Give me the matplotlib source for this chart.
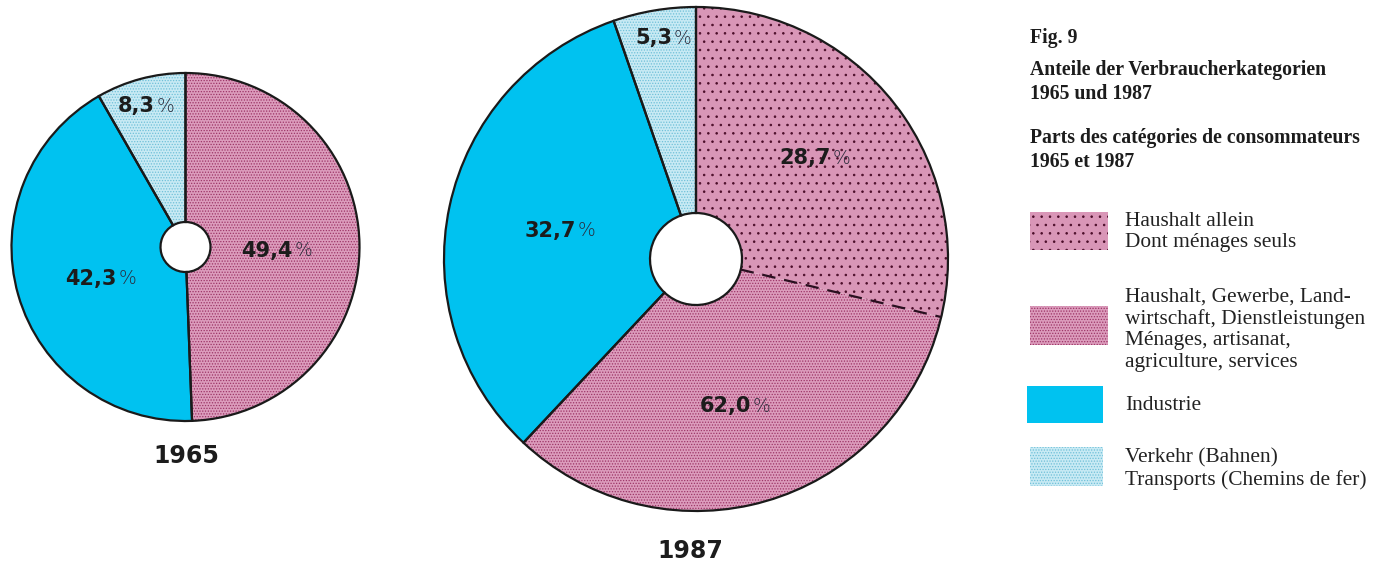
import matplotlib
matplotlib.use("Agg")
import matplotlib.pyplot as plt
from matplotlib.patches import Rectangle
import numpy as np

# ---------------- data ----------------
categories = ["Haushalt allein", "Haushalt, Gewerbe, Landwirtschaft, Dienstleistungen",
              "Industrie", "Verkehr (Bahnen)"]
years = ["1965", "1987"]
values_1965 = [49.4, 42.3, 8.3]            # pink total, industry, transport
values_1987 = [28.7, 33.3, 32.7, 5.3]      # households alone, rest of pink, industry, transport
labels_1965 = ["49,4", "42,3", "8,3"]
labels_1987 = ["28,7", "62,0", "32,7", "5,3"]
outline_1987 = [62.0, 32.7, 5.3]

legend_texts = [
    ["Haushalt allein", "Dont ménages seuls"],
    ["Haushalt, Gewerbe, Land-", "wirtschaft, Dienstleistungen",
     "Ménages, artisanat,", "agriculture, services"],
    ["Industrie"],
    ["Verkehr (Bahnen)", "Transports (Chemins de fer)"],
]
title_lines = ["Fig. 9", "Anteile der Verbraucherkategorien", "1965 und 1987",
               "Parts des catégories de consommateurs", "1965 et 1987"]

# ---------------- style ----------------
W, H = 1377, 565
PINK = "#dc9cbc"
PINK_DOT = "#9c3466"
PINK2 = "#d996b7"
PINK2_DOT = "#4a0c28"
BLUE = "#00c2f0"
LBLUE = "#c8eaf4"
LBLUE_DOT = "#6fc0d8"
TXT = "#1c1c1c"

plt.rcParams["hatch.linewidth"] = 0.6

fig = plt.figure(figsize=(W / 100, H / 100), dpi=100)
ax = fig.add_axes([0, 0, 1, 1])
ax.set_xlim(0, W)
ax.set_ylim(0, H)
ax.set_aspect("equal")
ax.axis("off")


def Y(y):
    return H - y


def draw_fill(values, center, radius, hole, faces, hatches, hcolors):
    wedges, _ = ax.pie(values, center=center, radius=radius, startangle=90,
                       counterclock=False, frame=True,
                       wedgeprops=dict(width=radius - hole, linewidth=0))
    for w, fc, ht, hc in zip(wedges, faces, hatches, hcolors):
        w.set_facecolor(fc)
        w.set_edgecolor(hc)
        w.set_linewidth(0)
        if ht:
            w.set_hatch(ht)
    return wedges


def draw_outline(values, center, radius, hole):
    ax.pie(values, center=center, radius=radius, startangle=90,
           counterclock=False, frame=True,
           wedgeprops=dict(width=radius - hole, facecolor="none",
                           edgecolor="#1a1a1a", linewidth=1.6))


def pct_label(num, x, y, size=15):
    ax.text(x, Y(y), num, ha="right", va="center", fontsize=size,
            fontweight="bold", family="DejaVu Sans", color=TXT)
    ax.text(x + 2, Y(y), "%", ha="left", va="center", fontsize=size - 1.5,
            fontweight="light", family="DejaVu Sans", color="#2a2a3a")


# ---- 1965 ----
c65, r65, h65 = (185.5, Y(247)), 174, 25
draw_fill(values_1965, c65, r65, h65, [PINK, BLUE, LBLUE],
          ["......", None, "......"], [PINK_DOT, BLUE, LBLUE_DOT])
draw_outline(values_1965, c65, r65, h65)

# ---- 1987 ----
c87, r87, h87 = (696, Y(259)), 252, 46
w87 = draw_fill(values_1987, c87, r87, h87, [PINK2, PINK, BLUE, LBLUE],
                ["..", "......", None, "......"],
                [PINK2_DOT, PINK_DOT, BLUE, LBLUE_DOT])
draw_outline(outline_1987, c87, r87, h87)
# dashed separation of "Haushalt allein"
ang = np.deg2rad(w87[0].theta1)
ax.plot([c87[0] + h87 * np.cos(ang), c87[0] + r87 * np.cos(ang)],
        [c87[1] + h87 * np.sin(ang), c87[1] + r87 * np.sin(ang)],
        color="#2a1020", lw=1.6, ls=(0, (6, 4)))

# ---- percentage labels ----
pct_label(labels_1965[0], 293, 251)
pct_label(labels_1965[1], 117, 279)
pct_label(labels_1965[2], 155, 106)
pct_label(labels_1987[0], 831, 158)
pct_label(labels_1987[1], 751, 406)
pct_label(labels_1987[2], 576, 231)
pct_label(labels_1987[3], 672, 38)

# ---- year labels ----
ax.text(186, Y(456), years[0], ha="center", va="center", fontsize=17,
        fontweight="bold", family="DejaVu Sans", color=TXT)
ax.text(690, Y(551), years[1], ha="center", va="center", fontsize=17,
        fontweight="bold", family="DejaVu Sans", color=TXT)

# ---- title ----
for txt, y in zip(title_lines, [38, 70, 94, 138, 162]):
    ax.text(1030, Y(y), txt, ha="left", va="center", fontsize=14.2,
            fontweight="bold", family="Liberation Serif", color=TXT)

# ---- legend ----
boxes = [(1030, 212, 78, 38), (1030, 306, 78, 39), (1027, 386, 76, 37), (1030, 447, 73, 39)]
box_faces = [PINK2, PINK, BLUE, LBLUE]
box_hatch = ["..", "......", None, "......"]
box_hcol = [PINK2_DOT, PINK_DOT, BLUE, LBLUE_DOT]
for (x, y, w, h), fc, ht, hc in zip(boxes, box_faces, box_hatch, box_hcol):
    r = Rectangle((x, Y(y + h)), w, h, facecolor=fc, edgecolor=hc, linewidth=0,
                  hatch=ht)
    ax.add_patch(r)

text_y = [[221, 243], [297, 319, 341, 363], [406], [458, 480]]
for lines, ys in zip(legend_texts, text_y):
    for t, y in zip(lines, ys):
        ax.text(1125, Y(y), t, ha="left", va="center", fontsize=15.4,
                family="Liberation Serif", color="#222222")

ax.set_xlim(0, W)
ax.set_ylim(0, H)
fig.savefig("out.png", dpi=100)
